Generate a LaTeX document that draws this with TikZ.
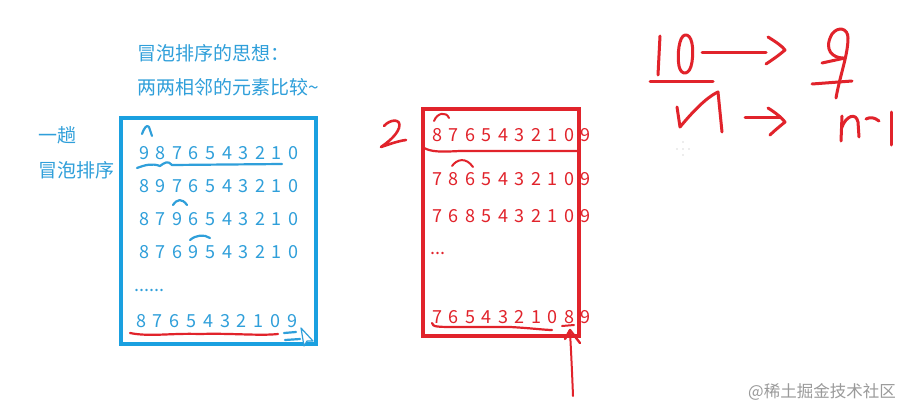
\documentclass[tikz,border=0pt]{standalone}
\usepackage{fontspec}
\setmainfont{Noto Sans CJK SC}
\definecolor{bl}{HTML}{2F9FDA}
\definecolor{blbox}{HTML}{1AA0E0}
\definecolor{rd}{HTML}{E1232B}
\definecolor{wm}{HTML}{9A9A9A}
\begin{document}
\begin{tikzpicture}[x=1pt,y=-1pt,
  dig/.style={text=#1,font=\fontsize{18}{20}\selectfont,inner sep=0pt,anchor=center},
  lbl/.style={text=bl,font=\fontsize{19}{22}\selectfont,inner sep=0pt,anchor=west},
  hw/.style={draw=#1,line width=2.6pt,line cap=round,line join=round},
  box/.style={draw=#1,line width=4pt}]
\useasboundingbox[fill=white] (0,0) rectangle (913,407);

% ---------- blue part ----------
\node[lbl] (t1) at (137,53) {冒泡排序的思想：};
\node[lbl] (t2) at (137,87) {两两相邻的元素比较\textasciitilde};
\node[lbl] (t3) at (38,135) {一趟};
\node[lbl] (t4) at (38,170) {冒泡排序};
\draw[box=blbox] (121,118) rectangle (316,344);

\foreach \d [count=\i from 0] in {9,8,7,6,5,4,3,2,1,0}
  \node[dig=bl] (ba\i) at ({144+16.6*\i},153) {\d};
\foreach \d [count=\i from 0] in {8,9,7,6,5,4,3,2,1,0}
  \node[dig=bl] (bb\i) at ({144+16.6*\i},186) {\d};
\foreach \d [count=\i from 0] in {8,7,9,6,5,4,3,2,1,0}
  \node[dig=bl] (bc\i) at ({144+16.6*\i},219) {\d};
\foreach \d [count=\i from 0] in {8,7,6,9,5,4,3,2,1,0}
  \node[dig=bl] (bd\i) at ({144+16.6*\i},252) {\d};
\node[dig=bl,anchor=west] (bdots) at (134,290) {......};
\foreach \d [count=\i from 0] in {8,7,6,5,4,3,2,1,0,9}
  \node[dig=bl] (be\i) at ({141+16.8*\i},321) {\d};

% blue handwriting
\draw[hw=bl,line width=2.2pt] (142,134) .. controls (144,128) and (147,124) .. (149,127) .. controls (150,130) and (151,133) .. (152,136);
\draw[hw=bl,line width=2.2pt] (137,168) .. controls (145,165) and (152,163) .. (160,166) .. controls (164,163) and (168,160) .. (172,165) -- (282,164);
\draw[hw=bl,line width=2.2pt] (173,205) .. controls (177,199) and (182,198) .. (187,205);
\draw[hw=bl,line width=2.2pt] (190,240) .. controls (196,235) and (204,234) .. (210,238);
\draw[hw=rd,line width=2.2pt] (130,333) .. controls (150,337) and (170,333) .. (200,334) .. controls (230,333) and (260,336) .. (278,334);
\draw[hw=bl,line width=2.2pt] (284,333) -- (296,332);
\draw[hw=bl,line width=2.2pt] (285,340) -- (300,339);
\draw[draw=bl,line width=1.2pt,fill=white,line join=round] (301,328) -- (313,341) -- (307,341) -- (304,346) -- cycle;

% ---------- red part ----------
\draw[box=rd] (423,109) rectangle (579,336);
\foreach \d [count=\i from 0] in {8,7,6,5,4,3,2,1,0,9}
  \node[dig=rd] (ra\i) at ({437+16.55*\i},135) {\d};
\foreach \d [count=\i from 0] in {7,8,6,5,4,3,2,1,0,9}
  \node[dig=rd] (rb\i) at ({437+16.55*\i},179) {\d};
\foreach \d [count=\i from 0] in {7,6,8,5,4,3,2,1,0,9}
  \node[dig=rd] (rc\i) at ({437+16.55*\i},216) {\d};
\node[dig=rd,anchor=west] (rdots) at (430,253) {...};
\foreach \d [count=\i from 0] in {7,6,5,4,3,2,1,0,8,9}
  \node[dig=rd] (rd\i) at ({437+16.55*\i},317) {\d};

% red handwriting
\draw[hw=rd] (384,126) .. controls (390,119) and (402,118) .. (399,128) .. controls (396,136) and (388,142) .. (381,147) .. controls (390,144) and (398,141) .. (406,140);
\draw[hw=rd,line width=2pt] (434,121) .. controls (437,113) and (446,111) .. (449,118);
\draw[hw=rd,line width=2.2pt] (424,148) .. controls (432,152) and (440,152) .. (460,151) -- (578,151);
\draw[hw=rd,line width=2pt] (452,166) .. controls (457,159) and (466,157) .. (473,167);
\draw[hw=rd,line width=2.2pt] (432,323) .. controls (433,327) and (436,327) .. (460,327) -- (510,327) .. controls (530,328) and (545,330) .. (552,330);
\draw[hw=rd,line width=2pt] (562,326) -- (574,325);
\draw[hw=rd,line width=2pt] (573,396) .. controls (572,370) and (571,350) .. (570,332);
\draw[hw=rd,line width=2.4pt] (565,339) -- (570,330) -- (580,343);

% ---------- top right handwriting ----------
\draw[hw=rd,line width=3pt] (660,36) -- (658,75);
\draw[hw=rd,line width=3pt] (685,35) .. controls (679,36) and (677,55) .. (679,66) .. controls (681,76) and (690,76) .. (692,62) .. controls (694,48) and (692,34) .. (685,35);
\draw[hw=rd,line width=3pt] (650,81) -- (713,81);
\draw[hw=rd,line width=3pt] (702,52) -- (766,52);
\draw[hw=rd,line width=3pt] (768,37) .. controls (776,42) and (782,46) .. (785,50) .. controls (778,56) and (772,60) .. (766,64);
\draw[hw=rd,line width=3pt] (843,58) .. controls (833,58) and (823,50) .. (832,34) .. controls (838,26) and (848,28) .. (848,38) .. controls (848,55) and (840,75) .. (836,98);
\draw[hw=rd,line width=3pt] (822,63) -- (845,58);
\draw[hw=rd,line width=3pt] (812,84) -- (852,81);
\draw[hw=rd,line width=3pt] (677,107) -- (680,127) .. controls (690,115) and (705,98) .. (718,92) -- (722,132);
\draw[hw=rd,line width=3pt] (745,117) -- (780,117);
\draw[hw=rd,line width=3pt] (768,108) .. controls (776,113) and (782,118) .. (785,122) .. controls (779,127) and (774,131) .. (770,135);
\draw[hw=rd,line width=3pt] (842,116) -- (841,141);
\draw[hw=rd,line width=3pt] (842,127) .. controls (846,116) and (856,112) .. (858,122) -- (859,137);
\draw[hw=rd,line width=3pt] (866,119) .. controls (870,117) and (874,117) .. (879,121);
\draw[hw=rd,line width=3pt] (891,112) -- (891,145);

% small cursor dots
\foreach \p in {(683,142),(677,149),(683,149),(689,149),(683,155)}
  \fill[gray!60] \p circle (0.6);

% watermark
\node[text=wm,font=\fontsize{16.5}{18}\selectfont,inner sep=0pt,anchor=west] (wmark) at (748,392) {@稀土掘金技术社区};
\end{tikzpicture}
\end{document}
